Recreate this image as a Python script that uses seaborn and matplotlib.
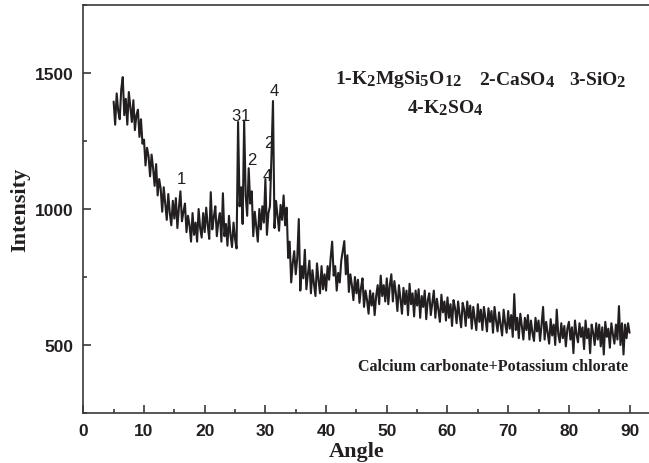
import numpy as np
import pandas as pd
import matplotlib
matplotlib.use("Agg")
import matplotlib.pyplot as plt
from matplotlib.ticker import MultipleLocator
import seaborn as sns

try:  # larger chemical-formula subscripts, as in the reference
    import matplotlib._mathtext as _mt
    _mt.SHRINK_FACTOR = 0.85
except Exception:
    pass

# ---------------- data ----------------
angle_start, angle_end, angle_step = 5.0, 90.0, 0.25
intensity = [
    # 5.00 - 9.75
    1395, 1310, 1425, 1360, 1330, 1440, 1485, 1345, 1405, 1310, 1430, 1375, 1320, 1400, 1290, 1345, 1365, 1265, 1330, 1240,
    # 10.00 - 14.75
    1255, 1160, 1225, 1195, 1120, 1200, 1150, 1085, 1165, 1050, 1110, 1075, 990, 1080, 1020, 960, 1055, 985, 940, 1030,
    # 15.00 - 19.75
    965, 1040, 930, 1005, 1065, 955, 990, 1020, 915, 975, 940, 880, 985, 905, 950, 880, 1000, 930, 895, 985,
    # 20.00 - 24.75
    915, 1005, 940, 890, 1062, 925, 970, 1010, 900, 955, 985, 880, 1058, 900, 945, 865, 975, 905, 860, 950,
    # 25.00 - 29.75
    890, 855, 1320, 1010, 1080, 945, 1325, 1050, 975, 1150, 1020, 1065, 900, 990, 935, 880, 1000, 925, 1010, 950,
    # 30.00 - 34.75
    1110, 905, 985, 1010, 1195, 1397, 930, 1030, 975, 920, 1015, 960, 1050, 940, 1005, 820, 880, 730, 800, 845,
    # 35.00 - 39.75
    760, 820, 963, 700, 790, 745, 850, 705, 760, 810, 690, 775, 725, 680, 800, 740, 690, 790, 705, 760,
    # 40.00 - 44.75
    700, 790, 740, 820, 880, 755, 790, 700, 765, 730, 810, 845, 882, 760, 830, 695, 760, 720, 665, 750,
    # 45.00 - 49.75
    690, 740, 655, 710, 745, 640, 700, 665, 615, 700, 645, 690, 610, 680, 720, 650, 755, 680, 720, 660,
    # 50.00 - 54.75
    745, 650, 720, 760, 660, 735, 690, 625, 720, 670, 615, 710, 650, 700, 610, 725, 650, 690, 605, 700,
    # 55.00 - 59.75
    645, 705, 600, 680, 640, 700, 595, 665, 690, 610, 655, 700, 600, 670, 630, 585, 685, 620, 660, 590,
    # 60.00 - 64.75
    675, 600, 650, 570, 665, 635, 580, 660, 610, 565, 655, 630, 570, 660, 600, 645, 560, 640, 595, 555,
    # 65.00 - 69.75
    650, 585, 630, 555, 640, 600, 550, 635, 585, 625, 545, 640, 590, 550, 620, 575, 535, 630, 580, 545,
    # 70.00 - 74.75
    625, 560, 610, 530, 687, 555, 600, 525, 615, 570, 520, 600, 555, 610, 520, 590, 545, 515, 600, 550,
    # 75.00 - 79.75
    590, 515, 575, 640, 520, 585, 545, 505, 595, 535, 575, 500, 630, 540, 510, 580, 525, 570, 495, 560,
    # 80.00 - 84.75
    585, 520, 565, 470, 590, 540, 510, 580, 530, 565, 485, 590, 525, 560, 470, 575, 545, 500, 580, 520,
    # 85.00 - 90.00
    575, 495, 565, 465, 585, 530, 560, 490, 580, 540, 505, 575, 520, 643, 500, 580, 465, 575, 525, 580, 545,
]

peak_labels = ["1", "3", "1", "2", "4", "2", "4"]
peak_label_x = [16.1, 25.2, 26.7, 27.7, 30.3, 30.6, 31.4]
peak_label_y = [1112, 1344, 1344, 1182, 1123, 1243, 1437]

phase_labels = [r"1-K$_{2}$MgSi$_{5}$O$_{12}$", r"2-CaSO$_{4}$", r"3-SiO$_{2}$", r"4-K$_{2}$SO$_{4}$"]
phase_label_x = [51.9, 71.4, 84.7, 59.7]
phase_label_y = [1478, 1478, 1478, 1375]
sample_name = "Calcium carbonate+Potassium chlorate"

x_ticks = [0, 10, 20, 30, 40, 50, 60, 70, 80, 90]
y_ticks = [500, 1000, 1500]

# ---------------- style ----------------
sns.set_style("ticks")
ink = "#231f20"
plt.rcParams.update({
    "font.family": ["Liberation Sans", "DejaVu Sans"],
    "mathtext.fontset": "custom",
    "mathtext.rm": "Liberation Serif:bold",
    "mathtext.it": "Liberation Serif:bold",
    "mathtext.bf": "Liberation Serif:bold",
    "axes.edgecolor": "#3a3a3a",
    "axes.linewidth": 1.2,
})

angle = np.arange(angle_start, angle_end + angle_step / 2, angle_step)
df = pd.DataFrame({"Angle": angle, "Intensity": intensity})

fig = plt.figure(figsize=(6.49, 4.64), dpi=100)
ax = fig.add_axes([83.3 / 649, 50 / 464, (649 - 83.3) / 649, 408 / 464])

sns.lineplot(data=df, x="Angle", y="Intensity", ax=ax, color=ink,
             linewidth=1.5, estimator=None, sort=False)

ax.set_xlim(0, 93.2)
ax.set_ylim(250, 1750)
ax.set_xticks(x_ticks)
ax.set_yticks(y_ticks)
ax.xaxis.set_minor_locator(MultipleLocator(5))
ax.yaxis.set_minor_locator(MultipleLocator(250))
ax.tick_params(which="both", direction="in", top=False, right=False,
               color="#3a3a3a", width=1.2)
ax.tick_params(which="major", length=6, pad=7)
ax.tick_params(which="minor", length=3)
for lab in ax.get_xticklabels() + ax.get_yticklabels():
    lab.set_fontfamily("Liberation Sans")
    lab.set_fontweight("bold")
    lab.set_fontsize(12.5)
    lab.set_color(ink)
ax.spines["right"].set_visible(False)

ax.set_xlabel("Angle", fontfamily="Liberation Serif", fontweight="bold",
              fontsize=16, color=ink)
ax.set_ylabel("Intensity", fontfamily="Liberation Serif", fontweight="bold",
              fontsize=16, color=ink)
ax.xaxis.label.set_va("center")
ax.yaxis.label.set_va("center")
ax.xaxis.set_label_coords(0.484, -0.093)
ax.yaxis.set_label_coords(-0.112, 0.5)

for t, xv, yv in zip(peak_labels, peak_label_x, peak_label_y):
    ax.text(xv, yv, t, ha="center", va="center", fontsize=12,
            fontfamily="Liberation Sans", color=ink)

serif_bold = dict(fontfamily="Liberation Serif", fontweight="bold", color=ink)
for t, xv, yv in zip(phase_labels, phase_label_x, phase_label_y):
    ax.text(xv, yv, t, ha="center", va="center", fontsize=14, **serif_bold)
ax.text(89.7, 421, sample_name, ha="right", va="center", fontsize=11.5, **serif_bold)

fig.savefig("out.png", dpi=100)
